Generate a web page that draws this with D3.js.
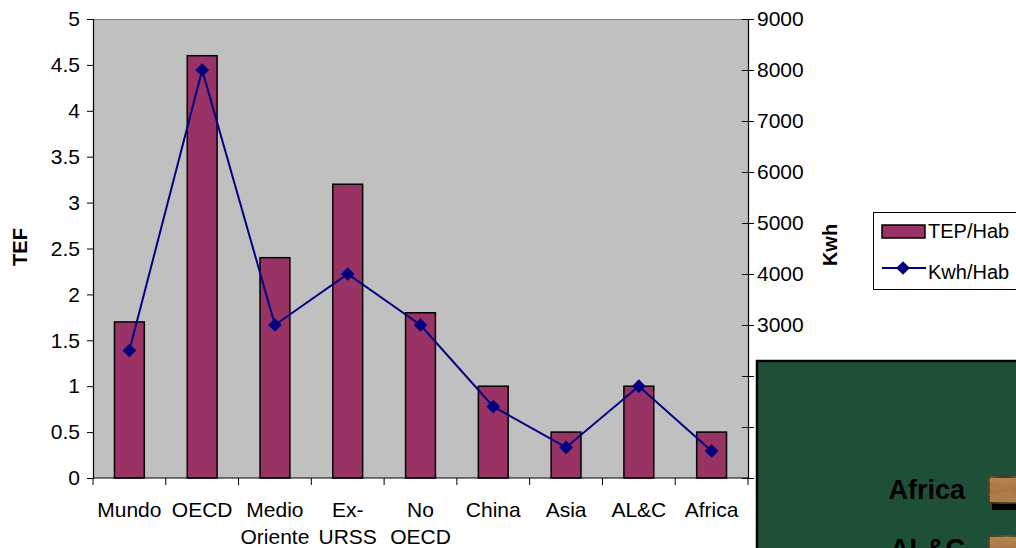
<!DOCTYPE html>
<html>
<head>
<meta charset="utf-8">
<script src="https://cdn.jsdelivr.net/npm/d3@7"></script>
<style>
  html, body { margin: 0; padding: 0; background: #ffffff; }
  svg { display: block; font-family: "Liberation Sans", Arial, sans-serif; }
</style>
</head>
<body>
<svg id="chart" width="1016" height="548"></svg>
<script>
// Regions (multi-line labels split into lines)
const categories = [
  ["Mundo"], ["OECD"], ["Medio", "Oriente"], ["Ex-", "URSS"],
  ["No", "OECD"], ["China"], ["Asia"], ["AL&C"], ["Africa"]
];
// Energy per inhabitant (TEP/Hab), left axis
const tepValues = [1.7, 4.6, 2.4, 3.2, 1.8, 1.0, 0.5, 1.0, 0.5];
// Electricity per inhabitant (Kwh/Hab), right axis
const kwhValues = [2500, 8000, 3000, 4000, 3000, 1400, 600, 1800, 530];
const leftTicks = [0, 0.5, 1, 1.5, 2, 2.5, 3, 3.5, 4, 4.5, 5];
const rightTicks = [0, 1000, 2000, 3000, 4000, 5000, 6000, 7000, 8000, 9000];
const seriesNames = ["TEP/Hab", "Kwh/Hab"];
const leftTitle = "TEF";
const rightTitle = "Kwh";
// Labels of the overlapping bar panel
const panelLabels = ["Africa", "AL&C"];

const svg = d3.select("#chart");
const plot = { left: 93, right: 748, top: 19, bottom: 478 };

const x = d3.scaleBand()
  .domain(d3.range(categories.length))
  .range([plot.left, plot.right])
  .paddingInner(0).paddingOuter(0);
const yL = d3.scaleLinear().domain([0, 5]).range([plot.bottom, plot.top]);
const yR = d3.scaleLinear().domain([0, 9000]).range([plot.bottom, plot.top]);

// Plot background
svg.append("rect")
  .attr("x", plot.left).attr("y", plot.top)
  .attr("width", plot.right - plot.left).attr("height", plot.bottom - plot.top)
  .attr("fill", "#c0c0c0");
svg.append("line")
  .attr("x1", plot.left).attr("x2", plot.right)
  .attr("y1", plot.top + 0.5).attr("y2", plot.top + 0.5)
  .attr("stroke", "#808080").attr("stroke-width", 1);

// Bars
const barW = x.bandwidth() * 0.41;
svg.append("g").selectAll("rect")
  .data(tepValues)
  .join("rect")
  .attr("x", (d, i) => x(i) + (x.bandwidth() - barW) / 2)
  .attr("y", d => yL(d))
  .attr("width", barW)
  .attr("height", d => yL(0) - yL(d))
  .attr("fill", "#993366")
  .attr("stroke", "#000")
  .attr("stroke-width", 1.5);

// Left axis
const axisL = d3.axisLeft(yL).tickValues(leftTicks).tickSize(6).tickPadding(7)
  .tickFormat(d => String(d));
const gL = svg.append("g").attr("transform", `translate(${plot.left},0)`).call(axisL);
gL.select(".domain").attr("stroke", "#000").attr("stroke-width", 1.2);
gL.selectAll(".tick line").attr("stroke", "#000");
gL.selectAll(".tick text").attr("font-size", 21).attr("fill", "#000")
  .attr("font-family", "Liberation Sans, Arial, sans-serif");

// Right axis (ticks cross the axis line)
const axisR = d3.axisRight(yR).tickValues(rightTicks).tickSize(6).tickPadding(3)
  .tickFormat(d3.format("d"));
const gR = svg.append("g").attr("transform", `translate(${plot.right},0)`).call(axisR);
gR.select(".domain").attr("stroke", "#000").attr("stroke-width", 1.2);
gR.selectAll(".tick line").attr("stroke", "#000").attr("x1", -6);
gR.selectAll(".tick text").attr("font-size", 21).attr("fill", "#000")
  .attr("font-family", "Liberation Sans, Arial, sans-serif");

// Bottom axis with ticks between categories
svg.append("line")
  .attr("x1", plot.left).attr("x2", plot.right)
  .attr("y1", plot.bottom).attr("y2", plot.bottom)
  .attr("stroke", "#000").attr("stroke-width", 1.2);
svg.append("g").selectAll("line")
  .data(d3.range(categories.length + 1))
  .join("line")
  .attr("x1", i => plot.left + i * x.bandwidth())
  .attr("x2", i => plot.left + i * x.bandwidth())
  .attr("y1", plot.bottom).attr("y2", plot.bottom + 7)
  .attr("stroke", "#000");

// Category labels
const catG = svg.append("g").attr("font-size", 21).attr("fill", "#000").attr("text-anchor", "middle");
categories.forEach((lines, i) => {
  const t = catG.append("text")
    .attr("x", x(i) + x.bandwidth() / 2)
    .attr("y", 517);
  lines.forEach((ln, j) => {
    t.append("tspan").attr("x", x(i) + x.bandwidth() / 2).attr("dy", j === 0 ? 0 : 27).text(ln);
  });
});

// Line series with diamond markers
const line = d3.line()
  .x((d, i) => x(i) + x.bandwidth() / 2)
  .y(d => yR(d));
svg.append("path")
  .datum(kwhValues)
  .attr("d", line)
  .attr("fill", "none")
  .attr("stroke", "#000080")
  .attr("stroke-width", 2);
const diamond = d3.symbol().type(d3.symbolDiamond2).size(120);
svg.append("g").selectAll("path")
  .data(kwhValues)
  .join("path")
  .attr("d", diamond)
  .attr("transform", (d, i) => `translate(${x(i) + x.bandwidth() / 2},${yR(d)})`)
  .attr("fill", "#000080");

// Axis titles
svg.append("text")
  .attr("transform", "translate(27,247) rotate(-90)")
  .attr("text-anchor", "middle")
  .attr("font-size", 20).attr("font-weight", "bold")
  .text(leftTitle);
svg.append("text")
  .attr("transform", "translate(837,245) rotate(-90)")
  .attr("text-anchor", "middle")
  .attr("font-size", 20).attr("font-weight", "bold")
  .text(rightTitle);

// Legend
const lg = svg.append("g");
lg.append("rect")
  .attr("x", 873.5).attr("y", 212.5).attr("width", 160).attr("height", 77)
  .attr("fill", "#fff").attr("stroke", "#000").attr("stroke-width", 1);
lg.append("rect")
  .attr("x", 882).attr("y", 225).attr("width", 43).attr("height", 13)
  .attr("fill", "#993366").attr("stroke", "#000").attr("stroke-width", 1.5);
lg.append("text").attr("x", 928).attr("y", 238).attr("font-size", 20).text(seriesNames[0]);
lg.append("line")
  .attr("x1", 882).attr("x2", 926).attr("y1", 268).attr("y2", 268)
  .attr("stroke", "#000080").attr("stroke-width", 2);
lg.append("path")
  .attr("d", diamond)
  .attr("transform", "translate(903,268)")
  .attr("fill", "#000080");
lg.append("text").attr("x", 928).attr("y", 279).attr("font-size", 20).text(seriesNames[1]);

// Overlapping panel with wooden bars
const defs = svg.append("defs");
const grad = defs.append("linearGradient").attr("id", "wood").attr("x1", 0).attr("y1", 0).attr("x2", 0).attr("y2", 1);
grad.append("stop").attr("offset", "0%").attr("stop-color", "#b5824f");
grad.append("stop").attr("offset", "50%").attr("stop-color", "#a86f3e");
grad.append("stop").attr("offset", "100%").attr("stop-color", "#b07a46");
const grain = defs.append("filter").attr("id", "grain");
grain.append("feTurbulence").attr("type", "fractalNoise").attr("baseFrequency", "0.08 0.3").attr("numOctaves", 2).attr("result", "n");
grain.append("feColorMatrix").attr("in", "n").attr("type", "matrix")
  .attr("values", "0 0 0 0 0.45  0 0 0 0 0.28  0 0 0 0 0.12  0 0 0 0.45 0").attr("result", "c");
grain.append("feComposite").attr("in", "c").attr("in2", "SourceGraphic").attr("operator", "in").attr("result", "t");
grain.append("feMerge").call(m => { m.append("feMergeNode").attr("in", "SourceGraphic"); m.append("feMergeNode").attr("in", "t"); });

const panel = svg.append("g");
panel.append("rect")
  .attr("x", 757).attr("y", 361).attr("width", 270).attr("height", 200)
  .attr("fill", "#1e5038").attr("stroke", "#000").attr("stroke-width", 2.5);
const rowY = d3.scalePoint().domain(panelLabels).range([489, 548]);
panelLabels.forEach(lbl => {
  const cy = rowY(lbl);
  panel.append("rect")
    .attr("x", 992).attr("y", cy + 14).attr("width", 40).attr("height", 7).attr("fill", "#000");
  panel.append("rect")
    .attr("x", 989).attr("y", cy - 12).attr("width", 40).attr("height", 26)
    .attr("fill", "url(#wood)").attr("stroke", "#000").attr("stroke-width", 1.5)
    .attr("filter", "url(#grain)");
  panel.append("text")
    .attr("x", 965).attr("y", cy + 10)
    .attr("text-anchor", "end")
    .attr("font-size", 27).attr("font-weight", "bold").attr("fill", "#000")
    .text(lbl);
});
</script>
</body>
</html>
